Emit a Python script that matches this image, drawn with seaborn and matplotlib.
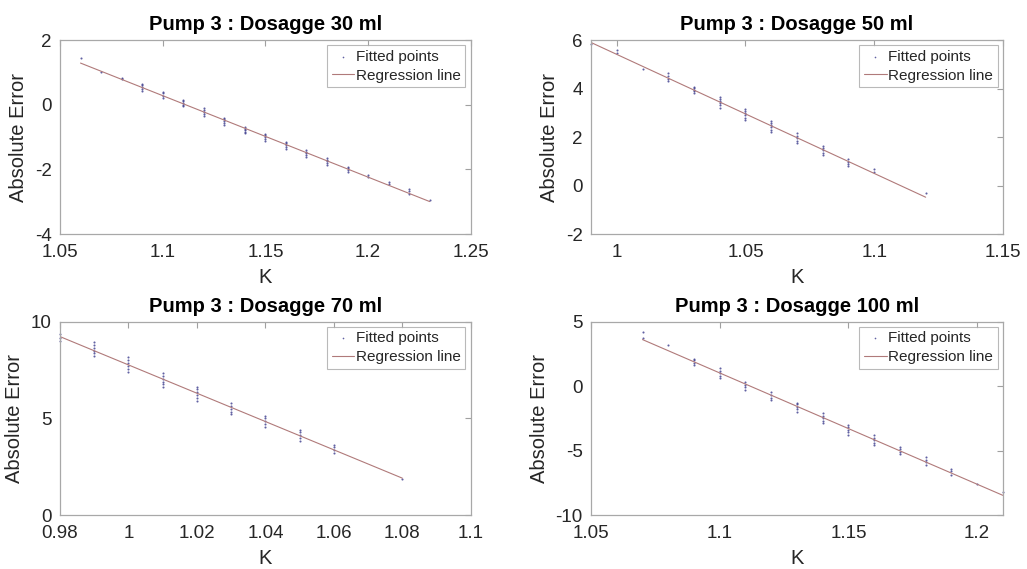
import numpy as np
import pandas as pd
import matplotlib
matplotlib.use('Agg')
import matplotlib.pyplot as plt
import seaborn as sns

# 各剂量: K 值 以及 每个 K 下的绝对误差测量值
k_30 = [1.06, 1.07, 1.08, 1.09, 1.10, 1.11, 1.12, 1.13, 1.14, 1.15,
        1.16, 1.17, 1.18, 1.19, 1.20, 1.21, 1.22, 1.23]
err_30 = [[1.45], [1.0], [0.78, 0.82],
          [0.42, 0.48, 0.54, 0.6, 0.65], [0.22, 0.26, 0.36, 0.4],
          [-0.05, 0.0, 0.05, 0.1, 0.15], [-0.35, -0.28, -0.22, -0.16, -0.1],
          [-0.62, -0.56, -0.5, -0.45, -0.4], [-0.88, -0.83, -0.78, -0.74, -0.7],
          [-1.12, -1.06, -1.0, -0.95, -0.9], [-1.38, -1.31, -1.25, -1.2, -1.15],
          [-1.62, -1.56, -1.5, -1.45, -1.4], [-1.85, -1.8, -1.75, -1.7, -1.65],
          [-2.08, -2.02, -1.96, -1.92], [-2.25, -2.18], [-2.45, -2.38],
          [-2.75, -2.68, -2.62], [-2.95]]

k_50 = [0.99, 1.00, 1.01, 1.02, 1.03, 1.04, 1.05, 1.06, 1.07, 1.08, 1.09, 1.10, 1.12]
err_50 = [[5.85], [5.45, 5.6], [4.8],
          [4.3, 4.4, 4.5, 4.65], [3.8, 3.88, 3.95, 4.02, 4.08],
          [3.2, 3.3, 3.4, 3.5, 3.58, 3.65], [2.7, 2.8, 2.9, 3.0, 3.08, 3.15],
          [2.2, 2.3, 2.4, 2.5, 2.58, 2.65], [1.75, 1.85, 1.95, 2.05, 2.15],
          [1.25, 1.35, 1.45, 1.55, 1.65], [0.8, 0.9, 0.98, 1.1],
          [0.55, 0.7], [-0.3]]

k_70 = [0.98, 0.99, 1.00, 1.01, 1.02, 1.03, 1.04, 1.05, 1.06, 1.08]
err_70 = [[9.0, 9.15, 9.35], [8.2, 8.35, 8.5, 8.65, 8.8, 8.95],
          [7.4, 7.55, 7.7, 7.85, 8.0, 8.15], [6.6, 6.75, 6.9, 7.05, 7.2, 7.35],
          [5.9, 6.05, 6.2, 6.35, 6.5, 6.6], [5.2, 5.35, 5.5, 5.65, 5.8],
          [4.55, 4.7, 4.85, 5.0, 5.1], [3.85, 4.0, 4.15, 4.3, 4.4],
          [3.2, 3.35, 3.5, 3.6], [1.85]]

k_100 = [1.07, 1.08, 1.09, 1.10, 1.11, 1.12, 1.13, 1.14, 1.15, 1.16,
         1.17, 1.18, 1.19, 1.20, 1.21]
err_100 = [[3.7, 4.2], [3.2], [1.6, 1.8, 2.0, 2.1],
           [0.6, 0.8, 1.0, 1.2, 1.4], [-0.3, -0.1, 0.1, 0.3],
           [-1.1, -0.9, -0.7, -0.5], [-2.0, -1.8, -1.6, -1.4, -1.3],
           [-2.9, -2.7, -2.5, -2.3, -2.1], [-3.8, -3.6, -3.4, -3.2, -3.0],
           [-4.6, -4.4, -4.2, -4.0, -3.8], [-5.3, -5.1, -4.9, -4.7],
           [-6.1, -5.9, -5.7, -5.5], [-6.9, -6.6, -6.4], [-7.6], [-8.2]]

titles = ['Pump 3 : Dosagge 30 ml', 'Pump 3 : Dosagge 50 ml',
          'Pump 3 : Dosagge 70 ml', 'Pump 3 : Dosagge 100 ml']

sns.set_theme(style='white')
plt.rcParams['font.family'] = ['Liberation Sans', 'DejaVu Sans']
plt.rcParams['xtick.direction'] = 'in'
plt.rcParams['ytick.direction'] = 'in'

fig = plt.figure(figsize=(10.27, 5.69), dpi=100)
# 坐标轴位置 (按像素换算)
positions = [[0.0584, 0.5887, 0.400, 0.341],
             [0.5755, 0.5887, 0.401, 0.341],
             [0.0584, 0.0949, 0.400, 0.340],
             [0.5755, 0.0949, 0.401, 0.340]]
xlims = [(1.05, 1.25), (0.99, 1.15), (0.98, 1.1), (1.05, 1.21)]
ylims = [(-4, 2), (-2, 6), (0, 10), (-10, 5)]
xticks = [[1.05, 1.1, 1.15, 1.2, 1.25], [1, 1.05, 1.1, 1.15],
          [0.98, 1, 1.02, 1.04, 1.06, 1.08, 1.1], [1.05, 1.1, 1.15, 1.2]]
yticks = [[-4, -2, 0, 2], [-2, 0, 2, 4, 6], [0, 5, 10], [-10, -5, 0, 5]]
datasets = [(k_30, err_30), (k_50, err_50), (k_70, err_70), (k_100, err_100)]

grey = '#262626'
for i in range(4):
    ax = fig.add_axes(positions[i])
    ks, errs = datasets[i]
    df = pd.DataFrame({'K': ks, 'err': errs}).explode('err')
    df['err'] = df['err'].astype(float)
    sns.regplot(data=df, x='K', y='err', ax=ax, ci=None, marker='.',
                color='#3d3d8f', label='Fitted points',
                scatter_kws={'s': 9, 'linewidths': 0, 'color': '#3a3a8c', 'clip_on': False},
                line_kws={'color': '#b07a7a', 'linewidth': 0.8, 'label': 'Regression line'})
    ax.set_xlim(*xlims[i])
    ax.set_ylim(*ylims[i])
    ax.set_xticks(xticks[i])
    ax.set_yticks(yticks[i])
    ax.set_xticklabels(['%g' % v for v in xticks[i]])
    ax.set_yticklabels(['%g' % v for v in yticks[i]])
    ax.tick_params(labelsize=13.5, colors='#a0a0a0', labelcolor=grey,
                   top=True, right=True, length=4, width=0.8)
    ax.tick_params(axis='x', pad=7)
    ax.tick_params(axis='y', pad=6)
    for sp in ax.spines.values():
        sp.set_color('#a8a8a8')
        sp.set_linewidth(0.9)
    ax.set_xlabel('K', fontsize=14.5, color=grey, labelpad=5)
    ax.set_ylabel('Absolute Error', fontsize=14.5, color=grey, labelpad=5)
    ax.set_title(titles[i], fontsize=14.5, fontweight='bold', color='black', pad=7)
    leg = ax.legend(loc='upper right', fontsize=11, frameon=True, fancybox=False,
                    handlelength=1.5, handletextpad=0.1, borderpad=0.3,
                    labelspacing=0.3, borderaxespad=0.35, markerscale=0.8)
    leg.get_frame().set_edgecolor('#a8a8a8')
    leg.get_frame().set_linewidth(0.8)
    for t in leg.get_texts():
        t.set_color(grey)

fig.savefig('out.png', dpi=100)
